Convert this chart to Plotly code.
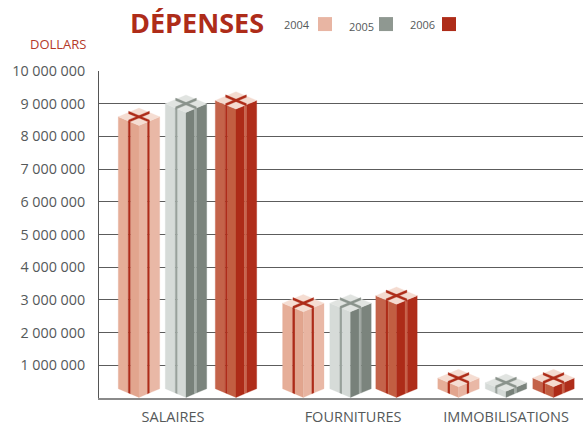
import plotly.graph_objects as go

categories = ["SALAIRES", "FOURNITURES", "IMMOBILISATIONS"]
years = ["2004", "2005", "2006"]
values_2004 = [8600000, 2900000, 610000]
values_2005 = [9000000, 2900000, 470000]
values_2006 = [9100000, 3130000, 610000]
tick_values = [1000000 * i for i in range(1, 11)]
tick_labels = ["1 000 000", "2 000 000", "3 000 000", "4 000 000", "5 000 000",
               "6 000 000", "7 000 000", "8 000 000", "9 000 000", "10 000 000"]

W, H = 583, 425
L, T, B = 99, 71, 26.5
PW, PH = W - L, H - T - B
U = 10000000 / PH  # dollars per pixel

bar_centers = [[40, 87, 137], [204.3, 251.5, 297.5], [359.5, 407, 454.5]]
label_centers = [74, 254, 407]
HW, DY = 20.7, 8.7

RED = "#AE2C19"
styles = {
    "2004": dict(lo="#E6AE98", li="#E2A58E", ri="#E8B4A1", ro="#E9B8A6", top="#F5DDD2",
                 rl=RED, rr=RED, cross=RED, key="#E8B5A3"),
    "2005": dict(lo="#D6DBD8", li="#D4D9D6", ri="#78817A", ro="#7B847D", top="#E1E4E1",
                 rl="#98A19B", rr="#A4ACA6", cross="#8A938C", key="#8F9891"),
    "2006": dict(lo="#C4634A", li="#C25E42", ri="#AD2B18", ro="#AF2D1A", top="#F4DBD0",
                 rl=RED, rr="#C9644C", cross=RED, key=RED),
}
series = {"2004": values_2004, "2005": values_2005, "2006": values_2006}

fig = go.Figure()


def px(x):
    return (x - L) / PW


def py(y):
    return 1 - (y - T) / PH


def poly(pts, color, name):
    xs = [p[0] for p in pts] + [pts[0][0]]
    ys = [p[1] * U for p in pts] + [pts[0][1] * U]
    fig.add_trace(go.Scatter(x=xs, y=ys, mode="lines", fill="toself", fillcolor=color,
                             line=dict(width=0.3, color=color), hoverinfo="skip",
                             showlegend=False, name=name))


def face(x0, x1, base_y0, base_y1, top_y0, top_y1, color, name):
    poly([(x0, base_y0), (x1, base_y1), (x1, top_y1), (x0, top_y0)], color, name)


def box(cx, value, s, name):
    top_c = value / U            # height of the centre of the lid, in px
    front_b = 0.6
    front_t = top_c - DY
    slope = DY / HW

    def left_span(a, b, c):
        by = lambda x: front_b + (cx - x) * slope
        ty = lambda x: front_t + (cx - x) * slope
        face(a, b, by(a), by(b), ty(a), ty(b), c, name)

    def right_span(a, b, c):
        by = lambda x: front_b + (x - cx) * slope
        ty = lambda x: front_t + (x - cx) * slope
        face(a, b, by(a), by(b), ty(a), ty(b), c, name)

    left_span(cx - HW, cx - HW + 10, s["lo"])
    left_span(cx - HW + 10, cx - HW + 12.4, s["rl"])
    left_span(cx - HW + 12.4, cx, s["li"])
    right_span(cx, cx + 8.5, s["ri"])
    right_span(cx + 8.5, cx + 10.8, s["rr"])
    right_span(cx + 10.8, cx + HW, s["ro"])
    # lid
    poly([(cx - HW, top_c), (cx, top_c + DY), (cx + HW, top_c), (cx, top_c - DY)], s["top"], name)
    # ribbon cross on the lid
    hx, hy = HW / 2, DY / 2
    t = 1.25
    poly([(cx - hx, top_c + hy + t), (cx + hx, top_c - hy + t),
          (cx + hx, top_c - hy - t), (cx - hx, top_c + hy - t)], s["cross"], name)
    poly([(cx - hx, top_c - hy + t), (cx + hx, top_c + hy + t),
          (cx + hx, top_c + hy - t), (cx - hx, top_c - hy - t)], s["cross"], name)


for gi, cat in enumerate(categories):
    for si, yr in enumerate(years):
        box(bar_centers[gi][si], series[yr][gi], styles[yr], f"{yr} {cat}")

FONT = "Open Sans, sans-serif"
GREY = "#55595A"
annotations = [dict(text="DOLLARS", x=px(89), y=py(44), xref="paper", yref="paper",
                    xanchor="right", yanchor="middle", showarrow=False,
                    font=dict(family=FONT, size=13, color="#B5392A"))]
shapes = []
leg_text = [(312, 24), (376, 26), (437, 24)]
leg_box = [(318, 17), (379, 17), (442, 17)]
for yr, (tx, ty), (bx, by) in zip(years, leg_text, leg_box):
    annotations.append(dict(text=yr, x=px(tx), y=py(ty), xref="paper", yref="paper",
                            xanchor="right", yanchor="middle", showarrow=False,
                            font=dict(family=FONT, size=11, color=GREY)))
    shapes.append(dict(type="rect", xref="paper", yref="paper", x0=px(bx), x1=px(bx + 14),
                       y0=py(by + 14), y1=py(by), line=dict(width=0),
                       fillcolor=styles[yr]["key"]))

fig.update_layout(
    width=W, height=H, autosize=False,
    margin=dict(l=L, r=0, t=T, b=B),
    paper_bgcolor="white", plot_bgcolor="white", showlegend=False,
    title=dict(text="<b>DÉPENSES</b>", x=197 / W, xanchor="center", xref="container",
               y=1 - 24 / H, yanchor="middle", yref="container",
               font=dict(family="Open Sans, sans-serif", size=27, color=RED)),
    xaxis=dict(range=[0, PW], tickmode="array", tickvals=label_centers, ticktext=categories,
               showgrid=False, zeroline=False, ticks="", showline=True, linecolor="#8A8A8A",
               linewidth=1.5, ticklabelstandoff=5, tickfont=dict(family=FONT, size=14.5, color=GREY)),
    yaxis=dict(range=[0, 10000000], tickmode="array", tickvals=tick_values, ticktext=tick_labels,
               showgrid=True, gridcolor="#5C5C5C", gridwidth=1.2, zeroline=False, ticks="",
               showline=True, linecolor="#555555", linewidth=1, ticklabelstandoff=10,
               tickfont=dict(family=FONT, size=14.3, color=GREY)),
    annotations=annotations, shapes=shapes,
)
fig.write_html("out.html", config={"displayModeBar": False},
               post_script="document.body.style.margin='0';document.documentElement.style.overflow='hidden';")
